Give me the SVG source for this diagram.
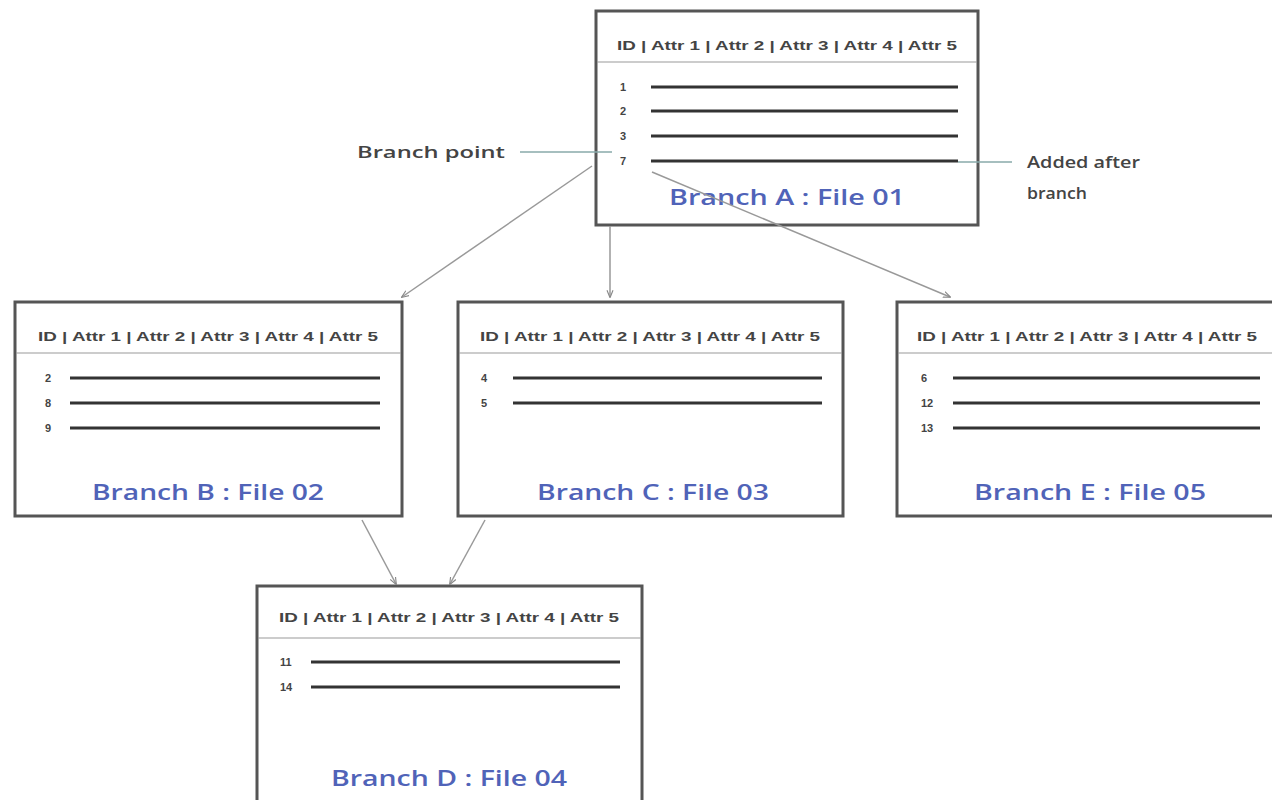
<svg xmlns="http://www.w3.org/2000/svg" width="1272" height="800" viewBox="0 0 1272 800">
  <defs>
    <marker id="arrow" viewBox="0 0 10 10" refX="9" refY="5" markerWidth="5" markerHeight="5" orient="auto">
      <path d="M0,1 L10,5 L0,9" fill="none" stroke="#888" stroke-width="1.5"/>
    </marker>
    <style>
      .box { fill: #fff; stroke: #555; stroke-width: 3; }
      .sep { stroke: #999; stroke-width: 1; }
      .row { stroke: #333; stroke-width: 3; }
      .hdr { font-family: "Liberation Sans", Arial, sans-serif; font-size: 12px; font-weight: bold; fill: #444; text-anchor: middle; }
      .num { font-family: "Liberation Sans", Arial, sans-serif; font-size: 11px; font-weight: bold; fill: #444; }
      .title { font-family: "Open Sans", "Liberation Sans", sans-serif; font-size: 21px; font-weight: 600; fill: #5063b8; text-anchor: middle; }
      .note { font-family: "Open Sans", "Liberation Sans", sans-serif; font-size: 17px; font-weight: 600; fill: #444; }
      .conn { stroke: #999; stroke-width: 1.5; fill: none; marker-end: url(#arrow); }
      .lead { stroke: #8aa; stroke-width: 1.5; fill: none; }
    </style>
  </defs>
  <rect width="1272" height="800" fill="#fff"/>

  <!-- Branch A -->
  <g id="branch-a">
    <rect class="box" x="596" y="11" width="382" height="214"/>
    <text class="hdr" x="787" y="50" textLength="340" lengthAdjust="spacingAndGlyphs">ID | Attr 1 | Attr 2 | Attr 3 | Attr 4 | Attr 5</text>
    <line class="sep" x1="597" y1="62" x2="977" y2="62"/>
    <text class="num" x="620" y="91">1</text>
    <text class="num" x="620" y="115">2</text>
    <text class="num" x="620" y="140">3</text>
    <text class="num" x="620" y="165">7</text>
    <line class="row" x1="651" y1="87" x2="958" y2="87"/>
    <line class="row" x1="651" y1="111" x2="958" y2="111"/>
    <line class="row" x1="651" y1="136" x2="958" y2="136"/>
    <line class="row" x1="651" y1="161" x2="958" y2="161"/>
    <text class="title" x="787" y="205" textLength="236" lengthAdjust="spacingAndGlyphs">Branch A : File 01</text>
  </g>

  <!-- annotations -->
  <g id="notes">
    <text class="note" x="357" y="158" textLength="148" lengthAdjust="spacingAndGlyphs">Branch point</text>
    <line class="lead" x1="520" y1="152" x2="612" y2="152"/>
    <line class="lead" x1="958" y1="162" x2="1012" y2="162"/>
    <text class="note" x="1027" y="168" textLength="113" lengthAdjust="spacingAndGlyphs">Added after</text>
    <text class="note" x="1027" y="199" textLength="60" lengthAdjust="spacingAndGlyphs">branch</text>
  </g>

  <!-- Branch B -->
  <g id="branch-b">
    <rect class="box" x="15" y="302" width="387" height="214"/>
    <text class="hdr" x="208" y="341" textLength="340" lengthAdjust="spacingAndGlyphs">ID | Attr 1 | Attr 2 | Attr 3 | Attr 4 | Attr 5</text>
    <line class="sep" x1="16" y1="353" x2="401" y2="353"/>
    <text class="num" x="45" y="382">2</text>
    <text class="num" x="45" y="407">8</text>
    <text class="num" x="45" y="432">9</text>
    <line class="row" x1="70" y1="378" x2="380" y2="378"/>
    <line class="row" x1="70" y1="403" x2="380" y2="403"/>
    <line class="row" x1="70" y1="428" x2="380" y2="428"/>
    <text class="title" x="208" y="500" textLength="232" lengthAdjust="spacingAndGlyphs">Branch B : File 02</text>
  </g>

  <!-- Branch C -->
  <g id="branch-c">
    <rect class="box" x="458" y="302" width="385" height="214"/>
    <text class="hdr" x="650" y="341" textLength="340" lengthAdjust="spacingAndGlyphs">ID | Attr 1 | Attr 2 | Attr 3 | Attr 4 | Attr 5</text>
    <line class="sep" x1="459" y1="353" x2="842" y2="353"/>
    <text class="num" x="481" y="382">4</text>
    <text class="num" x="481" y="407">5</text>
    <line class="row" x1="513" y1="378" x2="822" y2="378"/>
    <line class="row" x1="513" y1="403" x2="822" y2="403"/>
    <text class="title" x="653" y="500" textLength="232" lengthAdjust="spacingAndGlyphs">Branch C : File 03</text>
  </g>

  <!-- Branch E -->
  <g id="branch-e">
    <rect class="box" x="897" y="302" width="380" height="214"/>
    <text class="hdr" x="1087" y="341" textLength="340" lengthAdjust="spacingAndGlyphs">ID | Attr 1 | Attr 2 | Attr 3 | Attr 4 | Attr 5</text>
    <line class="sep" x1="898" y1="353" x2="1272" y2="353"/>
    <text class="num" x="921" y="382">6</text>
    <text class="num" x="921" y="407">12</text>
    <text class="num" x="921" y="432">13</text>
    <line class="row" x1="953" y1="378" x2="1260" y2="378"/>
    <line class="row" x1="953" y1="403" x2="1260" y2="403"/>
    <line class="row" x1="953" y1="428" x2="1260" y2="428"/>
    <text class="title" x="1090" y="500" textLength="232" lengthAdjust="spacingAndGlyphs">Branch E : File 05</text>
  </g>

  <!-- Branch D -->
  <g id="branch-d">
    <rect class="box" x="257" y="586" width="385" height="220"/>
    <text class="hdr" x="449" y="622" textLength="340" lengthAdjust="spacingAndGlyphs">ID | Attr 1 | Attr 2 | Attr 3 | Attr 4 | Attr 5</text>
    <line class="sep" x1="258" y1="638" x2="641" y2="638"/>
    <text class="num" x="280" y="666">11</text>
    <text class="num" x="280" y="691">14</text>
    <line class="row" x1="311" y1="662" x2="620" y2="662"/>
    <line class="row" x1="311" y1="687" x2="620" y2="687"/>
    <text class="title" x="449" y="786" textLength="236" lengthAdjust="spacingAndGlyphs">Branch D : File 04</text>
  </g>

  <!-- connectors, drawn over the boxes -->
  <g id="connectors">
    <line class="conn" x1="592" y1="166" x2="402" y2="297"/>
    <line class="conn" x1="610" y1="226" x2="610" y2="297"/>
    <line class="conn" x1="652" y1="172" x2="950" y2="297"/>
    <line class="conn" x1="362" y1="520" x2="396" y2="584"/>
    <line class="conn" x1="485" y1="520" x2="450" y2="584"/>
  </g>
</svg>
